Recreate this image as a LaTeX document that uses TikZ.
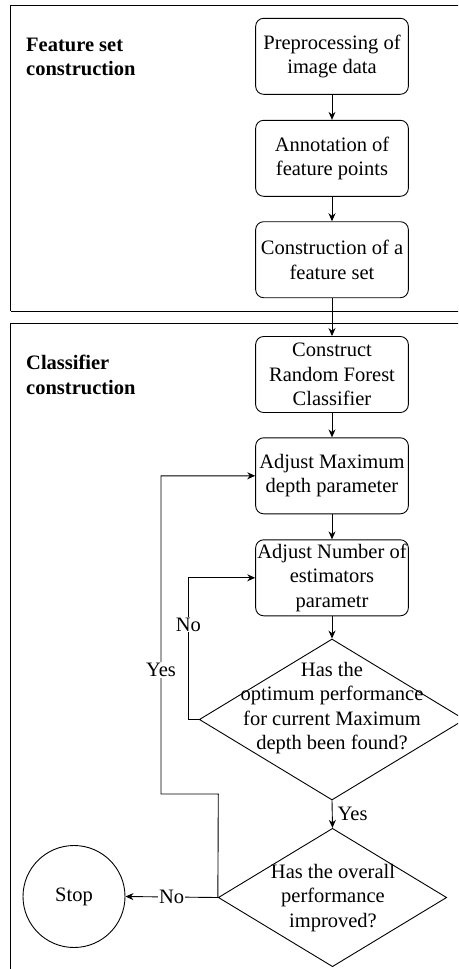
\documentclass[tikz,border=0pt]{standalone}
\usepackage{fontspec}
\setmainfont{Liberation Serif}
\usetikzlibrary{shapes.geometric,arrows.meta}
\begin{document}
\begin{tikzpicture}[x=1pt,y=-1pt,
  every node/.style={font=\fontsize{20.5}{24.4}\selectfont},
  proc/.style={draw, rounded corners=8pt, line width=0.9pt, minimum width=152.7pt, minimum height=76pt, align=center, inner sep=0pt},
  dec/.style={draw, diamond, line width=0.9pt, inner sep=0pt},
  lbl/.style={align=center, inner sep=0pt},
  conn/.style={line width=0.9pt, -{Stealth[length=8pt,width=7pt]}},
  plain/.style={line width=0.9pt},
  tag/.style={fill=white, inner sep=1pt},
  region/.style={draw, line width=0.9pt}
]
\clip (0,0) rectangle (458,969);
% regions
\draw[region] (10.7,311) -- (10.7,5.7) -- (475,5.7);
\draw[region] (10.7,311) -- (475,311);
\draw[region] (10.7,990) -- (10.7,323.3) -- (475,323.3);
\node[lbl, anchor=west, align=left, font=\fontsize{20.5}{24.4}\selectfont\bfseries] (t1) at (26,57) {Feature set\\construction};
\node[lbl, anchor=west, align=left, font=\fontsize{20.5}{24.4}\selectfont\bfseries] (t2) at (26,375) {Classifier\\construction};
% process boxes
\node[proc] (p1) at (332,56.3) {Preprocessing of\\image data};
\node[proc] (p2) at (332,158.3) {Annotation of\\feature points};
\node[proc] (p3) at (332,259.7) {Construction of a\\feature set};
\node[proc] (rf) at (332,374.5) {Construct\\Random Forest\\Classifier};
\node[proc] (am) at (332,475.8) {Adjust Maximum\\depth parameter};
\node[proc] (an) at (332,577.8) {Adjust Number of\\estimators\\parametr};
% decisions
\node[dec, minimum width=265.4pt, minimum height=161pt] (d1) at (332,719.5) {};
\node[lbl] (d1t) at (332,708) {Has the\\optimum performance\\for current Maximum\\depth been found?};
\node[dec, minimum width=228.4pt, minimum height=138.4pt] (d2) at (332.5,897.5) {};
\node[lbl] (d2t) at (333,898) {Has the overall\\performance\\improved?};
\node[draw, circle, line width=0.9pt, minimum size=102pt, inner sep=0pt] (stop) at (74,896.5) {Stop};
% connectors
\draw[conn] (p1) -- (p2);
\draw[conn] (p2) -- (p3);
\draw[conn] (p3) -- (rf);
\draw[conn] (rf) -- (am);
\draw[conn] (am) -- (an);
\draw[conn] (an) -- (d1.north);
\draw[conn] (d1.south) -- (d2.north) node[pos=0.5, anchor=west, inner sep=0pt, xshift=5pt] (yes1) {Yes};
\draw[conn] (d2.west) -- node[tag, pos=0.5] (no2) {No} (stop.east);
\coordinate (nA) at (188.3,719.5);
\coordinate (nB) at (188.3,577.8);
\draw[conn] (d1.west) -- (nA) -- node[tag, pos=0.67] (no1) {No} (nB) -- (an.west);
\coordinate (yA) at (218.3,794);
\coordinate (yB) at (161,794);
\coordinate (yC) at (161,475.8);
\draw[conn] (d2.west) -- (yA) -- (yB) -- node[tag, pos=0.39] (yes2) {Yes} (yC) -- (am.west);
\end{tikzpicture}
\end{document}
